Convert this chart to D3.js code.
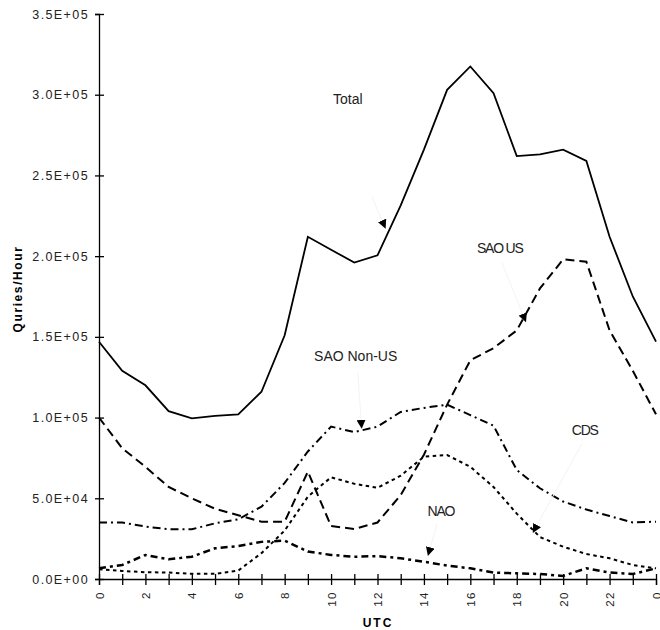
<!DOCTYPE html>
<html>
<head>
<meta charset="utf-8">
<script src="https://cdn.jsdelivr.net/npm/d3@7"></script>
<style>
  body { margin: 0; background: #fff; }
  text { font-family: "Liberation Sans", Arial, sans-serif; }
</style>
</head>
<body>
<div id="chart-area"></div>
<script>
// hours 0..24 (UTC), last point wraps back to 0
const hours = d3.range(0, 25)
const yTicks = [0, 50000, 100000, 150000, 200000, 250000, 300000, 350000]

const total = [147000, 129000, 120000, 104000, 99500, 101000, 102000, 116000, 151000, 212000,
  204000, 196000, 200500, 231500, 266000, 303000, 317500, 301000, 262000, 263000,
  266000, 259000, 212000, 175000, 147000]
const saoUS = [100000, 81000, 69500, 57000, 50000, 43500, 39500, 35500, 35500, 66500,
  32800, 31000, 35000, 52000, 77000, 108000, 135500, 143000, 154000, 180000,
  198000, 196500, 154000, 129000, 102000]
const saoNonUS = [35000, 35000, 32500, 30800, 30800, 34500, 37000, 44800, 59500, 79000,
  94400, 91000, 94400, 103500, 106000, 108000, 101500, 95000, 67500, 56200,
  48000, 43000, 39000, 35000, 35500]
const cds = [6000, 5000, 4200, 4000, 3200, 3200, 5200, 16000, 30000, 51000,
  63000, 59000, 56500, 64000, 75800, 76800, 69500, 57000, 40500, 26000,
  20000, 15500, 12800, 8700, 6600]
const nao = [6600, 8700, 14900, 12200, 13800, 19000, 20400, 23000, 23800, 17000,
  14900, 13800, 14200, 12800, 10700, 8300, 6600, 4000, 3500, 3100,
  1900, 6600, 4000, 3100, 6600]

const series = [
  { name: "Total", values: total, dash: null, width: 1.8 },
  { name: "SAO US", values: saoUS, dash: "9,5", width: 2 },
  { name: "SAO Non-US", values: saoNonUS, dash: "8,4,2,4", width: 2 },
  { name: "CDS", values: cds, dash: "3.5,3.5", width: 2 },
  { name: "NAO", values: nao, dash: "7,4,3,4", width: 2.5 }
]

// label callouts: text anchor point, leader start, arrow tip (hour, value)
const callouts = [
  { text: "Total",      tx: 10.72, tv: 294000, lx: 11.75, lv: 237000, ax: 12.35, av: 217000 },
  { text: "SAO US",     tx: 17.27, tv: 202000, lx: 17.36, lv: 196000, ax: 18.4,  av: 159000 },
  { text: "SAO Non-US", tx: 11.06, tv: 135000, lx: 11.15, lv: 128000, ax: 11.32, av: 93000 },
  { text: "CDS",        tx: 20.93, tv: 89000,  lx: 20.8,  lv: 83600,  ax: 18.69, av: 28500 },
  { text: "NAO",        tx: 14.73, tv: 39000,  lx: 14.56, lv: 34000,  ax: 14.17, av: 14200 }
]

const svg = d3.select("#chart-area").append("svg")
    .attr("width", 660)
    .attr("height", 630)

// scales
const x = d3.scaleLinear().domain([0, 24]).range([99, 656])
const y = d3.scaleLinear().domain([0, 350000]).range([579, 14])

// 3.5E+05 style format
function formatSci(v) {
  if (v === 0) return "0.0E+00"
  const e = Math.floor(Math.log10(v))
  const m = v / Math.pow(10, e)
  return m.toFixed(1) + "E+" + String(e).padStart(2, "0")
}

// y axis
const yAxis = svg.append("g")
    .attr("transform", `translate(${x(0)}, 0)`)
    .call(d3.axisLeft(y).tickValues(yTicks).tickSize(4).tickFormat(formatSci))
yAxis.select(".domain").attr("stroke-width", 1.3)
yAxis.selectAll(".tick line").attr("x1", -4).attr("x2", 5).attr("stroke-width", 1.3)
yAxis.selectAll(".tick text")
    .attr("x", -10)
    .attr("font-family", "Liberation Sans, Arial, sans-serif")
    .attr("font-size", 12.5)
    .attr("letter-spacing", 1.4)
    .attr("fill", "#222")

// x axis
const xAxis = svg.append("g")
    .attr("transform", `translate(0, ${y(0)})`)
    .call(d3.axisBottom(x).tickValues(hours).tickSize(6)
      .tickFormat(d => d % 2 === 0 ? String(d % 24) : ""))
xAxis.select(".domain").attr("stroke-width", 1.3)
xAxis.selectAll(".tick line").attr("y1", -5).attr("y2", 6).attr("stroke-width", 1.3)
xAxis.selectAll(".tick text")
    .attr("transform", "rotate(-90)")
    .attr("text-anchor", "end")
    .attr("x", -12)
    .attr("y", 0)
    .attr("dy", "0.35em")
    .attr("font-family", "Liberation Sans, Arial, sans-serif")
    .attr("font-size", 11.5)
    .attr("letter-spacing", 1.5)
    .attr("fill", "#222")

// axis titles
svg.append("text")
    .attr("x", 378)
    .attr("y", 627)
    .attr("text-anchor", "middle")
    .attr("font-size", 12)
    .attr("font-weight", "bold")
    .attr("letter-spacing", 2)
    .text("UTC")
svg.append("text")
    .attr("transform", "rotate(-90)")
    .attr("x", -289)
    .attr("y", 22)
    .attr("text-anchor", "middle")
    .attr("font-size", 12)
    .attr("font-weight", "bold")
    .attr("letter-spacing", 1.6)
    .text("Quries/Hour")

// lines
const line = d3.line()
    .x((d, i) => x(hours[i]))
    .y(d => y(d))

svg.selectAll(".series")
  .data(series)
  .enter().append("path")
    .attr("class", "series")
    .attr("fill", "none")
    .attr("stroke", "#000")
    .attr("stroke-width", d => d.width)
    .attr("stroke-dasharray", d => d.dash)
    .attr("d", d => line(d.values))

// arrowhead
svg.append("defs").append("marker")
    .attr("id", "tri")
    .attr("viewBox", "0 0 10 10")
    .attr("refX", 10)
    .attr("refY", 5)
    .attr("markerWidth", 9)
    .attr("markerHeight", 9)
    .attr("markerUnits", "userSpaceOnUse")
    .attr("orient", "auto")
  .append("path")
    .attr("d", "M0,0 L10,5 L0,10 Z")
    .attr("fill", "#000")

// callouts
const co = svg.selectAll(".callout")
  .data(callouts)
  .enter().append("g")
    .attr("class", "callout")
co.append("line")
    .attr("x1", d => x(d.lx))
    .attr("y1", d => y(d.lv))
    .attr("x2", d => x(d.ax))
    .attr("y2", d => y(d.av))
    .attr("stroke", "#f3f3f3")
    .attr("stroke-width", 1)
    .attr("marker-end", "url(#tri)")
co.append("text")
    .attr("x", d => x(d.tx))
    .attr("y", d => y(d.tv))
    .attr("text-anchor", "middle")
    .attr("font-size", 14)
    .attr("letter-spacing", d => d.text === "Total" || d.text === "SAO Non-US" ? 0 : -1.2)
    .attr("fill", "#222")
    .text(d => d.text)
</script>
</body>
</html>
